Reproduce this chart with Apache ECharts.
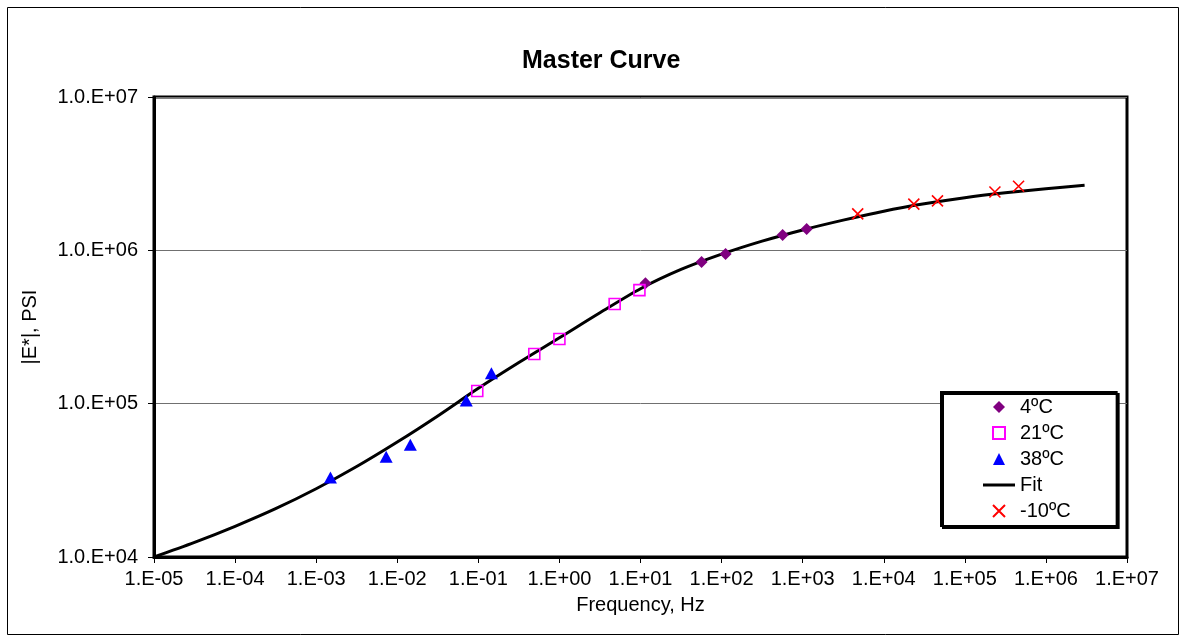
<!DOCTYPE html>
<html>
<head>
<meta charset="utf-8">
<script src="https://cdn.jsdelivr.net/npm/echarts@6/dist/echarts.min.js"></script>
<style>
html,body{margin:0;padding:0;background:#fff;}
#chart{width:1186px;height:642px;}
</style>
</head>
<body>
<div id="chart"></div>
<script>
// ---- data ----
const freq4C = [11.5, 56.6, 112, 566, 1120];
const mod4C = [6.1e5, 8.4e5, 9.46e5, 1.26e6, 1.38e6];

const freq21C = [0.097, 0.49, 1.0, 4.8, 9.7];
const mod21C = [1.21e5, 2.11e5, 2.64e5, 4.47e5, 5.5e5];

const freq38C = [0.0015, 0.0073, 0.0145, 0.071, 0.145];
const mod38C = [3.3e4, 4.5e4, 5.4e4, 1.05e5, 1.58e5];

const freqM10C = [4775, 23500, 46000, 235000, 460000];
const modM10C = [1.73e6, 2.0e6, 2.1e6, 2.4e6, 2.62e6];

const fitFreq = [1e-5, 3.16e-5, 1e-4, 3.16e-4, 1e-3, 3.16e-3, 1e-2, 3.16e-2, 1e-1, 3.16e-1,
  1, 3.16, 10, 31.6, 100, 316, 1000, 3162, 1e4, 3.16e4, 1e5, 3.16e5, 1e6, 3e6];
const fitMod = [1.00e4, 1.245e4, 1.585e4, 2.065e4, 2.786e4, 3.89e4, 5.62e4, 8.32e4, 1.259e5, 1.854e5,
  2.69e5, 3.917e5, 5.62e5, 7.50e5, 9.44e5, 1.148e6, 1.358e6, 1.574e6, 1.80e6, 2.01e6, 2.203e6, 2.371e6, 2.523e6, 2.655e6];

const xTickLabels = ['1.E-05','1.E-04','1.E-03','1.E-02','1.E-01','1.E+00','1.E+01','1.E+02','1.E+03','1.E+04','1.E+05','1.E+06','1.E+07'];
const yTickLabels = ['1.0.E+04','1.0.E+05','1.0.E+06','1.0.E+07'];
const seriesNames = ['4ºC','21ºC','38ºC','Fit','-10ºC'];

function pairs(xs, ys){ return xs.map((x,i)=>[x, ys[i]]); }

const FONT = 'Liberation Sans, Arial, sans-serif';
const chart = echarts.init(document.getElementById('chart'), null, {renderer:'canvas'});

const option = {
  animation: false,
  backgroundColor: '#fff',
  title: {
    text: 'Master Curve',
    left: 517,
    top: 44,
    textStyle: {fontFamily: FONT, fontSize: 25, fontWeight: 'bold', color: '#000'}
  },
  grid: {
    left: 154, top: 97, right: 59, bottom: 85,
    show: true, borderColor: '#000', borderWidth: 3, backgroundColor: '#fff'
  },
  legend: {
    orient: 'vertical',
    left: 941, top: 392,
    data: [
      {name: seriesNames[0], icon: 'path://M5,0L10,5L5,10L0,5Z'},
      {name: seriesNames[1], icon: 'path://M0,0L10,0L10,10L0,10Z'},
      {name: seriesNames[2], icon: 'path://M5,0L10,10L0,10Z'},
      {name: seriesNames[3], icon: 'path://M0,0L32,0L32,3L0,3Z'},
      {name: seriesNames[4], icon: 'path://M0,0L10,10M10,0L0,10'}
    ],
    itemWidth: 32, itemHeight: 12, itemGap: 6,
    symbolKeepAspect: true,
    padding: [5, 46, 5, 42],
    backgroundColor: '#fff',
    borderColor: '#000', borderWidth: 2,
    shadowColor: '#000', shadowBlur: 0, shadowOffsetX: 2, shadowOffsetY: 2,
    textStyle: {fontFamily: FONT, fontSize: 20, color: '#000'},
    selectedMode: false
  },
  xAxis: {
    type: 'log', logBase: 10, min: 1e-5, max: 1e7, interval: 1, splitNumber: 12,
    name: 'Frequency, Hz', nameLocation: 'middle', nameGap: 38,
    nameTextStyle: {fontFamily: FONT, fontSize: 20, color: '#000'},
    axisLine: {show: true, lineStyle: {color: '#000', width: 3}},
    axisTick: {show: true, length: 6, lineStyle: {color: '#000', width: 1}},
    minorTick: {show: false},
    splitLine: {show: false},
    axisLabel: {
      fontFamily: FONT, fontSize: 20, color: '#000', margin: 12,
      formatter: v => xTickLabels[Math.round(Math.log10(v)) + 5]
    }
  },
  yAxis: {
    type: 'log', logBase: 10, min: 1e4, max: 1e7, interval: 1, splitNumber: 3,
    name: '|E*|, PSI', nameLocation: 'middle', nameGap: 114, nameRotate: 90,
    nameTextStyle: {fontFamily: FONT, fontSize: 20, color: '#000'},
    axisLine: {show: true, lineStyle: {color: '#000', width: 3}},
    axisTick: {show: true, length: 6, lineStyle: {color: '#000', width: 1}},
    splitLine: {show: true, lineStyle: {color: '#707070', width: 1}},
    axisLabel: {
      fontFamily: FONT, fontSize: 20, color: '#000', margin: 16,
      formatter: v => yTickLabels[Math.round(Math.log10(v)) - 4]
    }
  },
  series: [
    {
      name: seriesNames[0], type: 'scatter', z: 3,
      symbol: 'diamond', symbolSize: 12,
      itemStyle: {color: '#800080', opacity: 1},
      data: pairs(freq4C, mod4C)
    },
    {
      name: seriesNames[1], type: 'scatter', z: 3,
      symbol: 'rect', symbolSize: 11,
      itemStyle: {color: 'rgba(255,255,255,0)', borderColor: '#FF00FF', borderWidth: 1.6, opacity: 1},
      data: pairs(freq21C, mod21C)
    },
    {
      name: seriesNames[2], type: 'scatter', z: 3,
      symbol: 'triangle', symbolSize: [13, 12],
      itemStyle: {color: '#0000FF', opacity: 1},
      data: pairs(freq38C, mod38C)
    },
    {
      name: seriesNames[3], type: 'line', z: 2,
      symbol: 'none', showSymbol: false, smooth: 0.3,
      lineStyle: {color: '#000', width: 3},
      itemStyle: {color: '#000'},
      data: pairs(fitFreq, fitMod)
    },
    {
      name: seriesNames[4], type: 'scatter', z: 3,
      symbol: 'path://M0,0L10,10M10,0L0,10', symbolSize: 11,
      itemStyle: {color: 'rgba(255,0,0,0)', borderColor: '#FF0000', borderWidth: 1.6, opacity: 1},
      data: pairs(freqM10C, modM10C)
    }
  ],
  graphic: [
    {
      type: 'rect', silent: true, z: -1,
      shape: {x: 7.5, y: 7.5, width: 1171, height: 627},
      style: {fill: 'none', stroke: '#000', lineWidth: 1}
    }
  ]
};
chart.setOption(option);
</script>
</body>
</html>
